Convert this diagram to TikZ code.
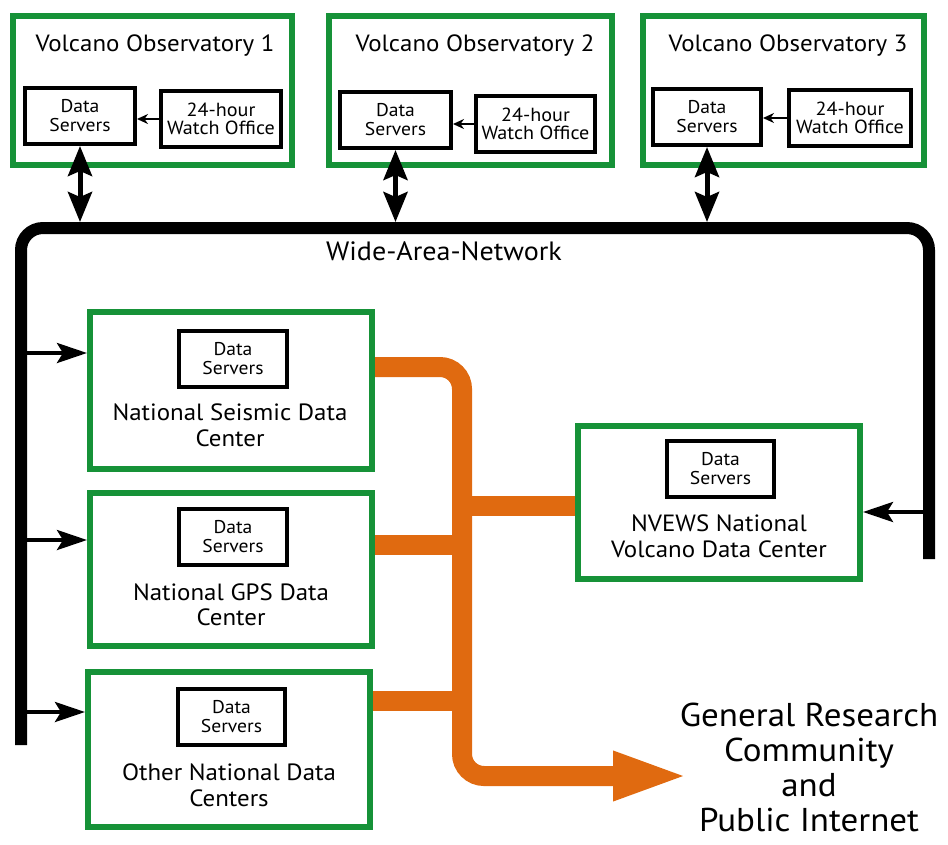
\documentclass[tikz,border=0pt]{standalone}
\usepackage{fontspec}
\setmainfont{PT Sans}[FakeStretch=1.06]
\usetikzlibrary{arrows.meta,calc,backgrounds}
\definecolor{vgreen}{RGB}{22,146,56}
\definecolor{vorange}{RGB}{224,106,16}
\begin{document}
\begin{tikzpicture}[x=1pt,y=-1pt,
  gbox/.style={draw=vgreen,line width=6pt,inner sep=0pt,fill=white,minimum height=149pt},
  dbox/.style={draw=black,line width=4pt,inner sep=0pt,fill=white,align=center,minimum height=56pt,font=\fontsize{18.5}{19}\selectfont},
  wbox/.style={dbox,font=\fontsize{19}{18.5}\selectfont},
  ttl/.style={inner sep=0pt,font=\fontsize{23.5}{26}\selectfont},
  ctr/.style={inner sep=0pt,align=center,font=\fontsize{23.5}{25.5}\selectfont},
  net/.style={line width=12pt,rounded corners=22pt},
  dblarrow/.style={line width=5pt,{Stealth[length=30pt,width=24pt,inset=5pt]}-{Stealth[length=30pt,width=24pt,inset=5pt]}},
  inarrow/.style={line width=4pt,-{Stealth[length=30pt,width=20pt,inset=6pt]}},
  smallarrow/.style={line width=2.5pt,-{Stealth[length=11pt,width=10pt]}},
  orangeline/.style={draw=vorange,line width=20pt},
]
\useasboundingbox (0,0) rectangle (948,844);

% Observatories
\node[gbox,minimum width=279pt] (obs1) at (152.5,90.5) {};
\node[gbox,minimum width=283pt] (obs2) at (470.5,90.5) {};
\node[gbox,minimum width=281pt] (obs3) at (783.5,90.5) {};
\node[ttl] (t1) at (155,46) {Volcano Observatory 1};
\node[ttl] (t2) at (475,46) {Volcano Observatory 2};
\node[ttl] (t3) at (788,46) {Volcano Observatory 3};
\node[dbox,minimum width=110pt] (ds1) at (80,116) {Data\\Servers};
\node[wbox,minimum width=120pt] (wo1) at (221,119) {24-hour\\Watch Office};
\node[dbox,minimum width=111pt] (ds2) at (395.5,120) {Data\\Servers};
\node[wbox,minimum width=119pt] (wo2) at (535.5,124) {24-hour\\Watch Office};
\node[dbox,minimum width=108pt] (ds3) at (707,117) {Data\\Servers};
\node[wbox,minimum width=122pt] (wo3) at (850,118) {24-hour\\Watch Office};

% National centers
\node[gbox,minimum width=282pt,minimum height=157pt] (seis) at (231,390.5) {};
\node[dbox,minimum width=108pt] (dss) at (233,359) {Data\\Servers};
\node[ctr] (ts) at (230,425.5) {National Seismic Data\\Center};

\node[gbox,minimum width=282pt,minimum height=153pt] (gps) at (231,569.5) {};
\node[dbox,minimum width=108pt] (dsg) at (233,537) {Data\\Servers};
\node[ctr] (tg) at (231,605) {National GPS Data\\Center};

\node[gbox,minimum width=282pt,minimum height=155pt] (oth) at (229,749.5) {};
\node[dbox,minimum width=107pt] (dso) at (231.5,717) {Data\\Servers};
\node[ctr] (to) at (229,785.5) {Other National Data\\Centers};

\node[gbox,minimum width=282pt,minimum height=153pt] (nv) at (719,502.5) {};
\node[dbox,minimum width=107pt] (dsn) at (720.5,468.5) {Data\\Servers};
\node[ctr] (tn) at (719,536.5) {NVEWS National\\Volcano Data Center};

% Labels
\node[inner sep=0pt,font=\fontsize{26.5}{28}\selectfont] (wan) at (444,251) {Wide-Area-Network};
\node[inner sep=0pt,align=center,font=\fontsize{33}{35}\selectfont] (grc) at (809,767) {General Research\\Community\\and\\Public Internet};

% Coordinates
\coordinate (netL) at (21,745);
\coordinate (netTL) at (21,228);
\coordinate (netTR) at (929,228);
\coordinate (netR) at (929,559);
\coordinate (netTop) at (0,222);
\coordinate (tip) at (690,776);
\coordinate (vtop) at (462,367);
\coordinate (vbot) at (462,776);
\coordinate (seisO) at ($(seis.east)+(0,-23.5)$);
\coordinate (gpsO) at ($(gps.east)+(0,-24.5)$);
\coordinate (othO) at ($(oth.east)+(0,-48.5)$);
\coordinate (nvO) at ($(nv.west)+(0,3.5)$);
\coordinate (seisI) at ($(seis.west)+(0,-37.5)$);
\coordinate (gpsI) at ($(gps.west)+(0,-29.5)$);
\coordinate (othI) at ($(oth.west)+(0,-37.5)$);
\coordinate (nvI) at ($(nv.east)+(0,9.5)$);

\begin{scope}[on background layer]
  \draw[net] (netL) -- (netTL) -- (netTR) -- (netR);
  \draw[orangeline,rounded corners=22pt,-{Triangle[length=77pt,width=44pt]}]
    (seisO) -- (vtop) -- (vbot) -- (tip);
  \draw[orangeline] (gpsO) -- (vtop |- gpsO);
  \draw[orangeline] (othO) -- (vtop |- othO);
  \draw[orangeline] (nvO) -- (vtop |- nvO);
\end{scope}

% WAN connections
\draw[dblarrow] (ds1.south) -- (ds1.south |- netTop);
\draw[dblarrow] (ds2.south) -- (ds2.south |- netTop);
\draw[dblarrow] (ds3.south) -- (ds3.south |- netTop);
\draw[smallarrow] (wo1.west) -- (ds1.east |- wo1.west);
\draw[smallarrow] (wo2.west) -- (ds2.east |- wo2.west);
\draw[smallarrow] (wo3.west) -- (ds3.east |- wo3.west);

\draw[inarrow] (netL |- seisI) -- (seisI);
\draw[inarrow] (netL |- gpsI) -- (gpsI);
\draw[inarrow] (netL |- othI) -- (othI);
\draw[inarrow] (netR |- nvI) -- (nvI);
\end{tikzpicture}
\end{document}
